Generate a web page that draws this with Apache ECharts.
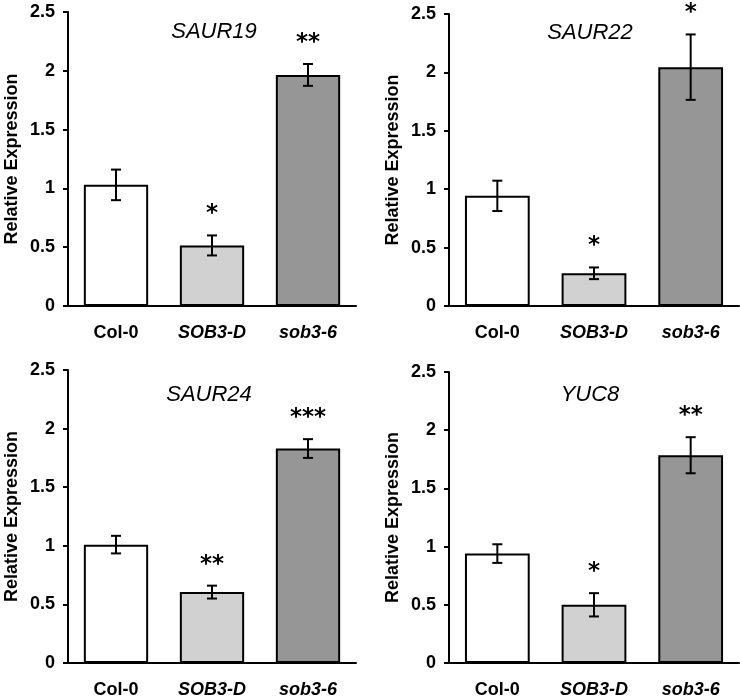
<!DOCTYPE html>
<html>
<head>
<meta charset="utf-8">
<script src="https://cdn.jsdelivr.net/npm/echarts@6/dist/echarts.min.js"></script>
<style>
html,body{margin:0;padding:0;background:#fff;}
#chart{width:740px;height:699px;}
</style>
</head>
<body>
<div id="chart"></div>
<script>
// ---- data ----
var categories = ['Col-0', 'SOB3-D', 'sob3-6'];
var genes = ['SAUR19', 'SAUR22', 'SAUR24', 'YUC8'];
var yTicks = [0, 0.5, 1, 1.5, 2, 2.5];

var saur19Mean = [1.03, 0.515, 1.965];
var saur19Err  = [0.13, 0.085, 0.093];
var saur19Sig  = ['', '*', '**'];

var saur22Mean = [0.943, 0.28, 2.045];
var saur22Err  = [0.13, 0.05, 0.28];
var saur22Sig  = ['', '*', '*'];

var saur24Mean = [1.01, 0.605, 1.83];
var saur24Err  = [0.075, 0.055, 0.08];
var saur24Sig  = ['', '**', '***'];

var yuc8Mean = [0.94, 0.50, 1.785];
var yuc8Err  = [0.08, 0.10, 0.155];
var yuc8Sig  = ['', '*', '**'];

var barColors = ['#ffffff', '#d1d1d1', '#969696'];

// ---- layout ----
var panels = [
  { mean: saur19Mean, err: saur19Err, sig: saur19Sig, grid: {left: 68, top: 12, width: 288, height: 294}, title: {x: 209, y: 29} },
  { mean: saur22Mean, err: saur22Err, sig: saur22Sig, grid: {left: 449, top: 14, width: 290, height: 292}, title: {x: 585, y: 30} },
  { mean: saur24Mean, err: saur24Err, sig: saur24Sig, grid: {left: 68, top: 370, width: 288, height: 294}, title: {x: 204, y: 392} },
  { mean: yuc8Mean, err: yuc8Err, sig: yuc8Sig, grid: {left: 449, top: 372, width: 290, height: 292}, title: {x: 585, y: 392} }
];

var FONT = '"Liberation Sans", Arial, sans-serif';
var STARFONT = '"DejaVu Sans", sans-serif';
var grids = [], xAxes = [], yAxes = [], series = [], titles = [];

panels.forEach(function (p, i) {
  grids.push({ left: p.grid.left, top: p.grid.top, width: p.grid.width, height: p.grid.height, containLabel: false });
  xAxes.push({
    type: 'category', gridIndex: i, data: categories,
    axisLine: { show: true, lineStyle: { color: '#000', width: 2 } },
    axisTick: { show: false },
    axisLabel: {
      margin: 18,
      formatter: function (v) { return v === 'Col-0' ? '{n|' + v + '}' : '{it|' + v + '}'; },
      rich: {
        n: { fontFamily: FONT, fontWeight: 'bold', fontSize: 18, color: '#000' },
        it: { fontFamily: FONT, fontWeight: 'bold', fontStyle: 'italic', fontSize: 18, color: '#000' }
      }
    },
    splitLine: { show: false }
  });
  yAxes.push({
    type: 'value', gridIndex: i, min: yTicks[0], max: yTicks[yTicks.length - 1], interval: 0.5,
    name: 'Relative Expression', nameLocation: 'middle', nameGap: 47,
    nameTextStyle: { fontFamily: FONT, fontWeight: 'bold', fontSize: 18, color: '#000' },
    axisLine: { show: true, lineStyle: { color: '#000', width: 2 } },
    axisTick: { show: true, inside: false, length: 5, lineStyle: { color: '#000', width: 2 } },
    axisLabel: { margin: 13, fontFamily: FONT, fontWeight: 'bold', fontSize: 18, color: '#000' },
    splitLine: { show: false }
  });
  series.push({
    type: 'bar', xAxisIndex: i, yAxisIndex: i, barWidth: '67%',
    data: p.mean.map(function (v, k) {
      return { value: v, itemStyle: { color: barColors[k], borderColor: '#000', borderWidth: 2 } };
    }),
    z: 2, silent: true, animation: false
  });
  var sig = p.sig;
  series.push({
    type: 'custom', xAxisIndex: i, yAxisIndex: i, z: 5, silent: true, animation: false,
    data: p.mean.map(function (v, k) { return [k, v, p.err[k]]; }),
    encode: { x: 0, y: 1 },
    renderItem: function (params, api) {
      var c = api.value(0), m = api.value(1), e = api.value(2);
      var top = api.coord([c, m + e]);
      var bot = api.coord([c, m - e]);
      var hw = 5;
      var st = { stroke: '#000', lineWidth: 2 };
      var children = [
        { type: 'line', shape: { x1: top[0], y1: top[1], x2: bot[0], y2: bot[1] }, style: st },
        { type: 'line', shape: { x1: top[0] - hw, y1: top[1], x2: top[0] + hw, y2: top[1] }, style: st },
        { type: 'line', shape: { x1: bot[0] - hw, y1: bot[1], x2: bot[0] + hw, y2: bot[1] }, style: st }
      ];
      var s = sig[params.dataIndex];
      if (s) {
        children.push({
          type: 'text',
          style: { x: top[0], y: top[1] - 21, text: s, align: 'center', verticalAlign: 'middle',
                   font: 'bold 23px ' + STARFONT, fill: '#000' }
        });
      }
      return { type: 'group', children: children };
    }
  });
  titles.push({
    text: genes[i], left: p.title.x, top: p.title.y - 13, textAlign: 'center',
    textStyle: { fontFamily: FONT, fontStyle: 'italic', fontWeight: 'normal', fontSize: 22, color: '#000' }
  });
});

var chart = echarts.init(document.getElementById('chart'), null, { renderer: 'canvas' });
chart.setOption({
  backgroundColor: '#ffffff',
  animation: false,
  title: titles,
  grid: grids,
  xAxis: xAxes,
  yAxis: yAxes,
  series: series
});
</script>
</body>
</html>
